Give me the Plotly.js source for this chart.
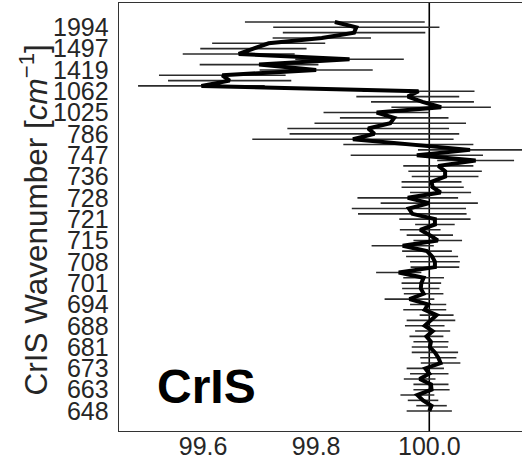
<!DOCTYPE html>
<html>
<head>
<meta charset="utf-8">
<script src="https://cdn.plot.ly/plotly-3.0.1.min.js"></script>
<style>html,body{margin:0;padding:0;background:#fff;}#chart{width:522px;height:459px;}</style>
</head>
<body>
<div id="chart"></div>
<script>
// Wavenumber tick labels (every 4th channel, bottom to top)
const tickLabels = ['648','663','673','681','688','694','701','708','715','721','728','736','747','786','1025','1062','1419','1497','1994'];
const tickStep = 4;

// Mean values per channel (bottom to top)
const meanValues = [
  100.000, 100.004, 99.989, 99.979, 100.004, 100.003, 99.983, 100.000, 99.993, 100.020,
  100.016, 100.010, 100.001, 100.003, 99.995, 100.006, 99.992, 100.003, 100.013, 99.992,
  99.998, 99.965, 99.990, 99.985, 99.986, 99.990, 99.946, 100.010, 100.010, 100.005,
  99.996, 99.953, 100.015, 100.001, 99.984, 100.010, 100.010, 99.970, 99.964, 100.000,
  99.962, 100.020, 100.006, 100.004, 100.028, 100.028, 100.016, 100.082, 99.978, 100.072,
  99.963, 99.865, 99.903, 99.892, 99.931, 99.938, 99.907, 100.021, 99.988, 99.962,
  99.981, 99.597, 99.647, 99.634, 99.800, 99.699, 99.859, 99.663, 99.689, 99.716,
  99.810, 99.867, 99.871, 99.833
];

// Error bar half-widths per channel (bottom to top)
const errValues = [
  0.040, 0.027, 0.027, 0.030, 0.032, 0.031, 0.028, 0.034, 0.033, 0.035,
  0.032, 0.041, 0.032, 0.031, 0.030, 0.031, 0.035, 0.043, 0.030, 0.038,
  0.032, 0.044, 0.035, 0.033, 0.035, 0.036, 0.040, 0.043, 0.044, 0.046,
  0.044, 0.055, 0.043, 0.041, 0.036, 0.035, 0.063, 0.096, 0.101, 0.086,
  0.089, 0.054, 0.055, 0.053, 0.059, 0.065, 0.062, 0.068, 0.117, 0.092,
  0.115, 0.178, 0.150, 0.143, 0.134, 0.096, 0.094, 0.088, 0.091, 0.091,
  0.099, 0.112, 0.109, 0.112, 0.100, 0.105, 0.096, 0.099, 0.094, 0.100,
  0.087, 0.126, 0.147, 0.159
];

const refValue = 100.0;
const panelLabel = 'CrIS';

const yIdx = meanValues.map((_, i) => i);
const tickVals = tickLabels.map((_, k) => k * tickStep);

const FONT = '"Liberation Sans", Arial, sans-serif';
const TXT = '#262626';

const traces = [
  {
    x: meanValues, y: yIdx, type: 'scatter', mode: 'lines',
    line: {width: 0, color: 'rgba(0,0,0,0)'},
    error_x: {type: 'data', array: errValues, visible: true, color: '#2b2b2b', thickness: 1.6, width: 0},
    hoverinfo: 'skip', showlegend: false
  },
  {
    x: meanValues, y: yIdx, type: 'scatter', mode: 'lines',
    line: {width: 4, color: '#000'},
    showlegend: false
  }
];

const layout = {
  width: 522, height: 459,
  margin: {l: 119, r: 0, t: 3, b: 28, pad: 0},
  paper_bgcolor: '#fff', plot_bgcolor: '#fff',
  font: {family: FONT, color: TXT, size: 25},
  xaxis: {
    range: [99.4513, 100.164],
    dtick: 0.2, tick0: 0, tickformat: '.1f',
    showgrid: false, zeroline: false,
    showline: true, mirror: true, linecolor: '#333', linewidth: 1.3,
    ticks: '', ticklabelstandoff: -7,
    tickfont: {family: FONT, size: 25, color: TXT}
  },
  yaxis: {
    range: [-3.75, 76.56],
    tickmode: 'array', tickvals: tickVals, ticktext: tickLabels,
    showgrid: false, zeroline: false,
    showline: true, mirror: false, linecolor: '#333', linewidth: 1.3,
    ticks: 'outside', ticklen: 4, tickcolor: 'rgba(0,0,0,0)',
    tickfont: {family: FONT, size: 25, color: TXT}
  },
  shapes: [{
    type: 'line', xref: 'x', yref: 'paper', x0: refValue, x1: refValue, y0: 0, y1: 1,
    line: {color: '#000', width: 1.6}, layer: 'below'
  }],
  annotations: [
    {
      text: 'CrIS Wavenumber [<i>cm</i><sup>−1</sup>]',
      xref: 'paper', yref: 'paper', x: -0.212, y: 0.493,
      xanchor: 'center', yanchor: 'middle', textangle: -90, showarrow: false,
      font: {family: FONT, size: 31.5, color: TXT}
    },
    {
      text: '<b>' + panelLabel + '</b>',
      xref: 'paper', yref: 'paper', x: 0.09, y: 0.105,
      xanchor: 'left', yanchor: 'middle', showarrow: false,
      font: {family: FONT, size: 48, color: '#000'}
    }
  ]
};

Plotly.newPlot('chart', traces, layout, {staticPlot: true, displayModeBar: false});
</script>
</body>
</html>
